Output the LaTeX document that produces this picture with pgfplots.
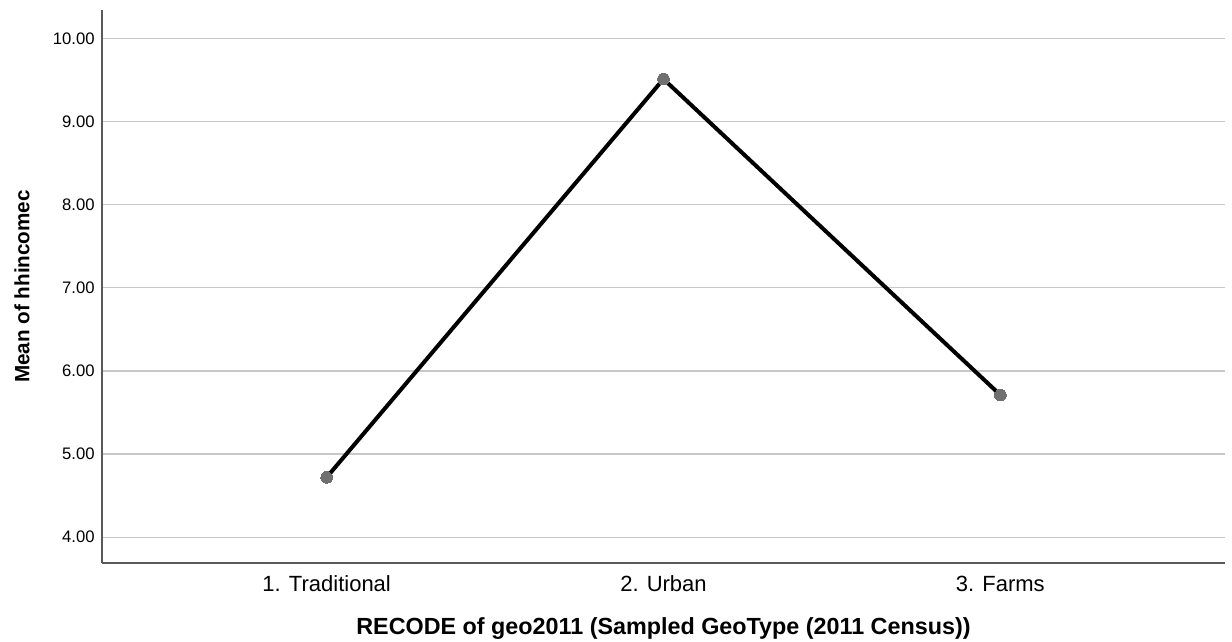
\documentclass[border=0pt]{standalone}
\usepackage{pgfplots}
\pgfplotsset{compat=1.18}
\usepackage{fontspec}
\setmainfont{Liberation Sans}
\definecolor{gridc}{HTML}{C8C8C8}
\definecolor{axc}{HTML}{5A5A5A}
\definecolor{markc}{HTML}{707070}
\begin{document}
\begin{tikzpicture}[x=0.75pt,y=0.75pt]
\path[use as bounding box] (-102,-79) rectangle (1130,563);
\begin{axis}[
  at={(0,0)}, anchor=south west,
  scale only axis, width=842.25pt, height=414.75pt,
  xmin=-0.667, xmax=2.667, ymin=3.69, ymax=10.34,
  axis lines=left, axis line style={axc, line width=1pt, -},
  xtick={0,1,2},
  xticklabels={1. Traditional, 2. Urban, 3. Farms},
  ytick={4,5,6,7,8,9,10},
  ymajorgrids, grid style={gridc, line width=1pt},
  major tick length=0pt,
  /pgf/number format/assume math mode=true,
  yticklabel={\pgfmathprintnumber[fixed,fixed zerofill,precision=2]{\tick}},
  yticklabel style={font=\fontsize{12.5}{14}\selectfont, xshift=-2pt},
  xticklabel style={font=\fontsize{16.5}{18}\selectfont, anchor=base, yshift=-21.75pt},
  xlabel={RECODE of geo2011 (Sampled GeoType (2011 Census))},
  ylabel={Mean of hhincomec},
  xlabel style={font=\bfseries\fontsize{17.5}{19}\selectfont, at={(axis description cs:0.5,0)}, anchor=center, yshift=-49.5pt},
  ylabel style={font=\bfseries\fontsize{15.5}{17}\selectfont, at={(axis description cs:-0.0712,0.5)}, anchor=center},
  clip=false,
]
\addplot[black, line width=3pt, mark=*, mark size=4.4pt, mark options={fill=markc, draw=markc, line width=0pt}]
  coordinates {(0,4.72) (1,9.51) (2,5.71)};
\end{axis}
\end{tikzpicture}
\end{document}
